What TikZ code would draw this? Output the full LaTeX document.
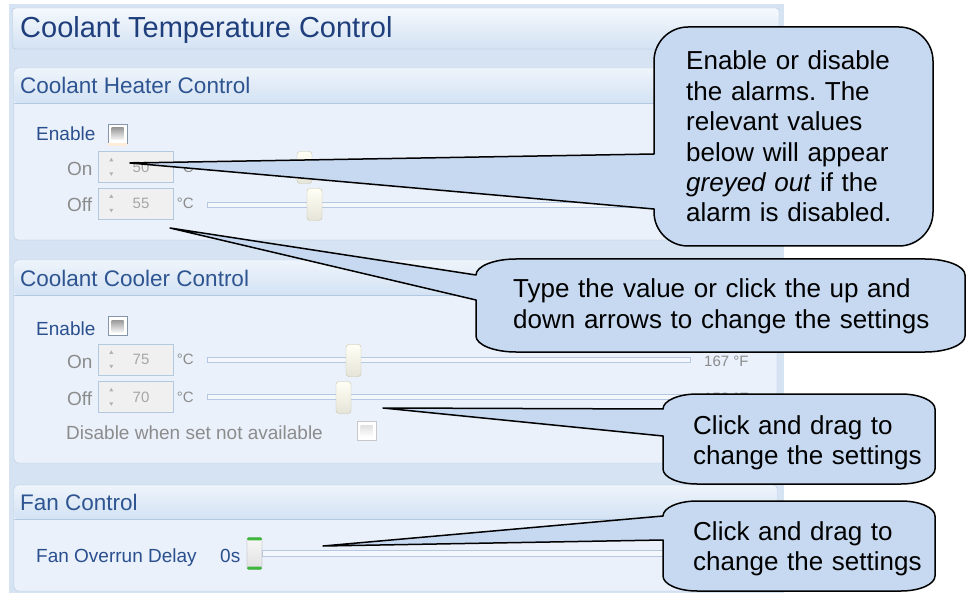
\documentclass[tikz,border=0pt]{standalone}
\usepackage{fontspec}
\setmainfont{Liberation Sans}
\usetikzlibrary{positioning,calc}
\frenchspacing

\definecolor{paneback}{HTML}{D5E3F3}
\definecolor{panebody}{HTML}{EAF1FB}
\definecolor{paneline}{HTML}{B3C8E1}
\definecolor{headtop}{HTML}{EEF4FB}
\definecolor{headbot}{HTML}{D3E2F3}
\definecolor{titleblue}{HTML}{1F3E7C}
\definecolor{headblue}{HTML}{2E5591}
\definecolor{labelblue}{HTML}{2A4F8E}
\definecolor{greytext}{HTML}{8C8C8C}
\definecolor{notefill}{HTML}{C6D9F1}
\definecolor{knobline}{HTML}{C6C2A8}
\definecolor{trackline}{HTML}{B4C8E2}
\definecolor{knobgreen}{HTML}{3DB83D}

% callout balloon: left, top, right, bottom, corner rx, corner ry,
% upper and lower join of the pointer, pointer tip
\newcommand{\noteballoon}[9]{%
  \draw[balloon] (#1,#7) -- (#1,#2+#6)
    .. controls (#1,#2+0.45*#6) and (#1+0.45*#5,#2) .. (#1+#5,#2)
    -- (#3-#5,#2)
    .. controls (#3-0.45*#5,#2) and (#3,#2+0.45*#6) .. (#3,#2+#6)
    -- (#3,#4-#6)
    .. controls (#3,#4-0.45*#6) and (#3-0.45*#5,#4) .. (#3-#5,#4)
    -- (#1+#5,#4)
    .. controls (#1+0.45*#5,#4) and (#1,#4-0.45*#6) .. (#1,#4-#6)
    -- (#1,#8) -- (#9) -- cycle;}

\begin{document}
\begin{tikzpicture}[
    x=1pt, y=-1pt,
    titletext/.style={anchor=base west, inner sep=0pt, text=titleblue, font=\fontsize{29}{34}\selectfont},
    headtext/.style={anchor=base west, inner sep=0pt, text=headblue, font=\fontsize{22.5}{26}\selectfont},
    bluetext/.style={anchor=base west, inner sep=0pt, text=labelblue, font=\fontsize{19}{22}\selectfont},
    greylabel/.style={anchor=base west, inner sep=0pt, text=greytext, font=\fontsize{19}{22}\selectfont},
    unittext/.style={inner sep=0pt, text=greytext, font=\fontsize{15}{18}\selectfont},
    spinval/.style={inner sep=0pt, text=black!35, font=\fontsize{15}{18}\selectfont},
    spinbox/.style={rectangle, draw=paneline, fill=black!6, minimum width=75pt, minimum height=31pt, inner sep=0pt},
    spinmark/.style={fill=black!30},
    checkbox/.style={rectangle, draw=black!25!paneline, fill=white, minimum size=19pt, inner sep=0pt},
    checkin/.style={rectangle, top color=black!40, bottom color=black!4, minimum size=12pt, inner sep=0pt},
    knob/.style={rectangle, draw=knobline, top color=white!96!yellow, bottom color=knobline!45, rounded corners=3pt, minimum width=15pt, minimum height=32pt, inner sep=0pt},
    track/.style={draw=trackline, fill=panebody!50!white, line width=0.9pt},
    panel/.style={fill=panebody, draw=paneline, rounded corners=4pt},
    panelhead/.style={top color=headtop, bottom color=headbot, rounded corners=3.5pt},
    balloon/.style={fill=notefill, draw=black, line width=1.5pt, line join=round},
    note/.style={anchor=base west, inner sep=0pt, align=left, font=\fontsize{26}{30.4}\selectfont}
]
\useasboundingbox (0,0) rectangle (968,593);
\fill[white] (0,0) rectangle (968,593);

% window and title bar
\fill[paneback] (9,4) rectangle (784,593);
\shadedraw[top color=headtop!60!white, bottom color=headbot, draw=paneline, rounded corners=3pt] (12.5,8) rectangle (779,49);
\node[titletext] (maintitle) at (20,38) {Coolant Temperature Control};

% Coolant heater panel
\filldraw[panel] (14,68) rectangle (777,240);
\shade[panelhead] (14.5,68.5) rectangle (776.5,103);
\draw[paneline] (14,103) -- (777,103);
\node[headtext] (heathead) at (20,94) {Coolant Heater Control};
\node[bluetext] (heatenable) at (36,141) {Enable};
\node[checkbox] (heatcheck) at (117.5,133.5) {};
\node[checkin] at (heatcheck) {};
\fill[orange!15] (heatcheck.south west) rectangle ($(heatcheck.south east)+(0,3)$);
\node[greylabel] (heatonlabel) at (67,176) {On};
\node[spinbox] (heatonbox) at (136,167) {};
\node[spinval] (heatonval) at (141,167) {50};
\node[unittext, right=3pt of heatonbox] (heatonunit) {°C};
\draw[track] (207,165) rectangle (690,170);
\node[knob] (heatonknob) at (304.5,167.5) {};
\node[greylabel] (heatofflabel) at (67,212) {Off};
\node[spinbox] (heatoffbox) at (136,203.5) {};
\node[spinval] (heatoffval) at (141,203.5) {55};
\node[unittext, right=3pt of heatoffbox] (heatoffunit) {°C};
\draw[track] (207,202) rectangle (690,207);
\node[knob] (heatoffknob) at (314.5,204.5) {};

% Coolant cooler panel
\filldraw[panel] (14,260) rectangle (777,463);
\shade[panelhead] (14.5,260.5) rectangle (776.5,295);
\draw[paneline] (14,295) -- (777,295);
\node[headtext] (coolhead) at (20,287) {Coolant Cooler Control};
\node[bluetext] (coolenable) at (36,335) {Enable};
\node[checkbox] (coolcheck) at (117.5,326) {};
\node[checkin] at (coolcheck) {};
\node[greylabel] (coolonlabel) at (67,368) {On};
\node[spinbox] (coolonbox) at (136,359.5) {};
\node[spinval] (coolonval) at (141,359.5) {75};
\node[unittext, right=3pt of coolonbox] (coolonunit) {°C};
\draw[track] (207,357.5) rectangle (690,362.5);
\node[knob] (coolonknob) at (353.5,360.5) {};
\node[unittext, anchor=base west] (coolonfahr) at (704,366) {167 °F};
\node[greylabel] (coolofflabel) at (67,405) {Off};
\node[spinbox] (cooloffbox) at (136,397) {};
\node[spinval] (cooloffval) at (141,397) {70};
\node[unittext, right=3pt of cooloffbox] (cooloffunit) {°C};
\draw[track] (207,394.5) rectangle (690,399.5);
\node[knob] (cooloffknob) at (343.5,397.5) {};
\node[unittext, anchor=base west] (cooloffahr) at (704,403) {158 °F};
\node[greylabel] (coolunset) at (66,439) {Disable when set not available};
\node[checkbox, draw=black!22] (unsetcheck) at (366.5,431) {};
\node[checkin, top color=black!12, bottom color=white] at (unsetcheck) {};

% spin arrows
\foreach \b in {heatonbox,heatoffbox,coolonbox,cooloffbox} {
  \fill[spinmark] ($(\b.north west)+(11,10)$) -- ++(2,-3.5) -- ++(2,3.5) -- cycle;
  \fill[spinmark] ($(\b.north west)+(11,21)$) -- ++(2,3.5) -- ++(2,-3.5) -- cycle;
}

% Fan panel
\filldraw[panel] (14,485) rectangle (777,591);
\shade[panelhead] (14.5,485.5) rectangle (776.5,519);
\draw[paneline] (14,519) -- (777,519);
\node[headtext] (fanhead) at (20,510) {Fan Control};
\node[bluetext] (fandelay) at (36,562) {Fan Overrun Delay};
\node[bluetext] (fanvalue) at (220,562) {0s};
\draw[track] (262,550.5) rectangle (720,556);
\node[knob, top color=black!3, bottom color=black!12, draw=black!40] (fanknob) at (254.5,553.5) {};
\fill[knobgreen, rounded corners=1.5pt] (fanknob.north west) rectangle ($(fanknob.north east)+(0,3)$);
\fill[knobgreen, rounded corners=1.5pt] ($(fanknob.south west)+(0,-3)$) rectangle (fanknob.south east);

% Callouts
\coordinate (alarmtip) at (130,163);
\noteballoon{654}{27}{933}{246}{34}{34}{154}{209}{alarmtip}
\node[note, text width=240pt] (alarmnote) at (686,70) {Enable or disable\\the alarms. The\\relevant values\\below will appear\\\emph{greyed out} if the\\alarm is disabled.};

\coordinate (spintip) at (170,228);
\noteballoon{476}{259}{965}{352}{40}{16}{275}{300}{spintip}
\node[note, text width=440pt] (spinnote) at (513,298) {Type the value or click the up and\\down arrows to change the settings};

\coordinate (slidetip) at (383,408);
\noteballoon{663}{394}{935}{484}{34}{15}{409}{436}{slidetip}
\node[note, text width=250pt] (slidenote) at (693,434) {Click and drag to\\change the settings};

\coordinate (fantip) at (323,546);
\noteballoon{663}{501}{935}{591}{34}{15}{516}{540}{fantip}
\node[note, text width=250pt] (fannote) at (693,540) {Click and drag to\\change the settings};
\end{tikzpicture}
\end{document}
